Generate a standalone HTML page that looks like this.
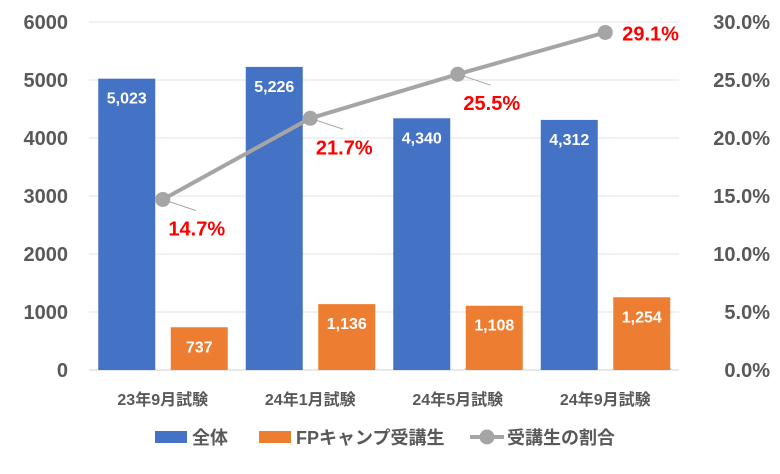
<!DOCTYPE html>
<html><head><meta charset="utf-8"><style>
body{margin:0;background:#fff;}
svg text{font-family:"Liberation Sans","Noto Sans CJK JP",sans-serif;}
</style></head><body>
<svg width="780" height="469" id="c">
</svg>
<script>
const categories=["23年9月試験","24年1月試験","24年5月試験","24年9月試験"];
const totalValues=[5023,5226,4340,4312];
const fpValues=[737,1136,1108,1254];
const ratioValues=[14.7,21.7,25.5,29.1];
const leftTicks=[0,1000,2000,3000,4000,5000,6000];
const rightTicks=["0.0%","5.0%","10.0%","15.0%","20.0%","25.0%","30.0%"];
const ns="http://www.w3.org/2000/svg";
const svg=document.getElementById('c');
const X0=89,X1=679,Y0=370,Y1=22;
const band=(X1-X0)/categories.length;
const yL=v=>Y0-(v/6000)*(Y0-Y1);
const yR=p=>Y0-(p/30)*(Y0-Y1);
function mk(t,a,txt){const e=document.createElementNS(ns,t);for(const k in a)e.setAttribute(k,a[k]);if(txt!=null)e.textContent=txt;svg.appendChild(e);return e;}
leftTicks.forEach((v,i)=>{
 const g=mk('line',{x1:X0,x2:X1,y1:yL(v),y2:yL(v),stroke:i==0?'#d0d0d0':'#e3e3e3','stroke-width':1});
 
 
 const t=mk('text',{x:68,y:yL(v)+7,'text-anchor':'end','font-size':20,'font-weight':'bold',fill:'#595959'},v);
 
 
 const r=mk('text',{x:770,y:yL(v)+7,'text-anchor':'end','font-size':20,'font-weight':'bold',fill:'#595959'},rightTicks[i]);
 
 
});
categories.forEach((c,i)=>{
 const cx=X0+band*(i+0.5);
 const b=mk('rect',{x:cx-64.5,y:yL(totalValues[i]),width:57,height:Y0-yL(totalValues[i]),fill:'#4472c4'});
 
 
 const bl=mk('text',{x:cx-36,y:yL(totalValues[i])+25,'text-anchor':'middle','font-size':16,'font-weight':'bold',fill:'#fff'},totalValues[i].toLocaleString('en-US'));
 
 
 const o=mk('rect',{x:cx+8,y:yL(fpValues[i]),width:57,height:Y0-yL(fpValues[i]),fill:'#ed7d31'});
 
 
 const ol=mk('text',{x:cx+36.5,y:yL(fpValues[i])+25,'text-anchor':'middle','font-size':16,'font-weight':'bold',fill:'#fff'},fpValues[i].toLocaleString('en-US'));
 
 
 const cl=mk('text',{x:cx,y:405,'text-anchor':'middle','font-size':16,'font-weight':'bold',fill:'#595959'},c);
 
 
});
const pts=ratioValues.map((p,i)=>[X0+band*(i+0.5),yR(p)]);
const line=mk('polyline',{points:pts.map(p=>p.join(',')).join(' '),fill:'none',stroke:'#a5a5a5','stroke-width':4});


pts.forEach((p,i)=>{
 const last=i==pts.length-1;
 if(!last){
  const l=mk('line',{x1:p[0],y1:p[1],x2:p[0]+33,y2:p[1]+11,stroke:'#a5a5a5','stroke-width':1});
  
  
 }
 const m=mk('circle',{cx:p[0],cy:p[1],r:7.5,fill:'#a5a5a5'});
 
 
 const t=last?mk('text',{x:p[0]+17,y:p[1]+8,'font-size':20,'font-weight':'bold',fill:'#ff0000'},ratioValues[i].toFixed(1)+'%')
  :mk('text',{x:p[0]+34,y:p[1]+36,'text-anchor':'middle','font-size':20,'font-weight':'bold',fill:'#ff0000'},ratioValues[i].toFixed(1)+'%');
 
 
});
// legend
const lg=[[155,'全体','rect','#4472c4'],[259,'FPキャンプ受講生','rect','#ed7d31'],[470,'受講生の割合','line','#a5a5a5']];
lg.forEach(l=>{
 if(l[2]=='rect'){const r=mk('rect',{x:l[0],y:431,width:32,height:12,fill:l[3]});}
 else{const a=mk('line',{x1:l[0],x2:l[0]+34,y1:437,y2:437,stroke:l[3],'stroke-width':4});
  const b=mk('circle',{cx:l[0]+17,cy:437,r:7.5,fill:l[3]});}
 const t=mk('text',{x:l[0]+37,y:444,'font-size':18,'font-weight':'bold',fill:'#595959'},l[1]);
 
 
});
</script>
</body></html>
